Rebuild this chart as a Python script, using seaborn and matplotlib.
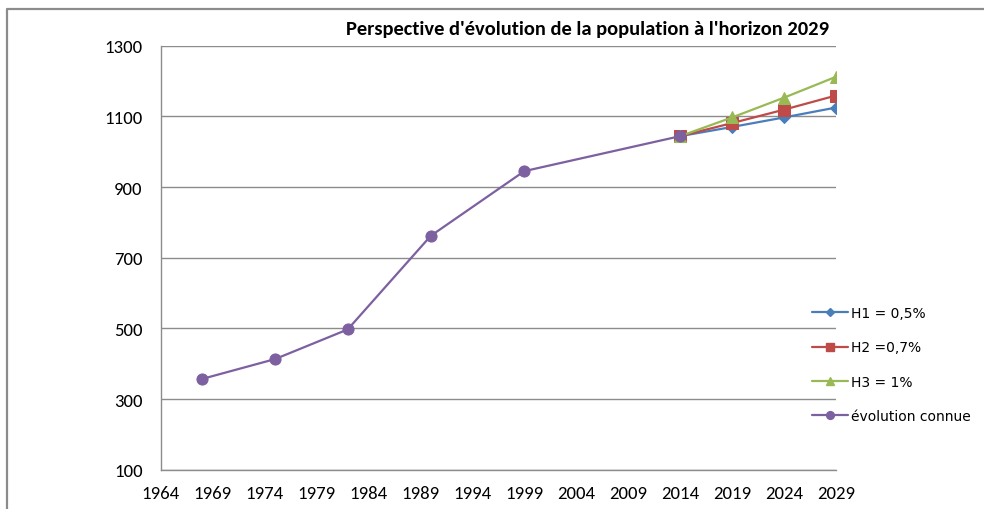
import matplotlib
matplotlib.use("Agg")
import matplotlib.pyplot as plt
from matplotlib.lines import Line2D
import seaborn as sns
import pandas as pd

# Census counts and projections
years_known = [1968, 1975, 1982, 1990, 1999, 2014]
pop_known = [357, 413, 497, 762, 945, 1044]

years_proj = [2014, 2019, 2024, 2029]
pop_h1 = [1044, 1070, 1097, 1125]
pop_h2 = [1044, 1081, 1119, 1159]
pop_h3 = [1044, 1097, 1153, 1212]

series_labels = ["H1 = 0,5%", "H2 =0,7%", "H3 = 1%", "évolution connue"]
x_ticks = list(range(1964, 2030, 5))
y_ticks = list(range(100, 1301, 200))

sns.set_theme(style="white")
plt.rcParams["font.family"] = ["DejaVu Sans"]
plt.rcParams["text.color"] = "black"
calib = ["Carlito", "DejaVu Sans"]

W, H = 984, 510
fig = plt.figure(figsize=(W / 100, H / 100), dpi=100)
fig.patch.set_facecolor("white")

# Plot area in pixel coordinates
x0, x1, y0, y1 = 160.7, 836.0, 46.7, 470.7
ax = fig.add_axes([x0 / W, 1 - y1 / H, (x1 - x0) / W, (y1 - y0) / H])
ax.set_facecolor("white")

frames = [
    pd.DataFrame({"year": years_proj, "pop": pop_h1, "serie": series_labels[0]}),
    pd.DataFrame({"year": years_proj, "pop": pop_h2, "serie": series_labels[1]}),
    pd.DataFrame({"year": years_proj, "pop": pop_h3, "serie": series_labels[2]}),
    pd.DataFrame({"year": years_known, "pop": pop_known, "serie": series_labels[3]}),
]
colors = ["#4A7EBB", "#BE4B48", "#98B954", "#7D60A0"]
markers = ["D", "s", "^", "o"]
msizes = [6, 8, 9, 8]

for df, c, m, ms in zip(frames, colors, markers, msizes):
    sns.lineplot(data=df, x="year", y="pop", ax=ax, color=c, marker=m,
                 markersize=ms, markeredgecolor=c, linewidth=1.6,
                 label=df["serie"].iloc[0], zorder=3)

ax.set_xlim(1964, 2029)
ax.set_ylim(100, 1300)
ax.set_xticks(x_ticks)
ax.set_yticks(y_ticks)
ax.set_xlabel("")
ax.set_ylabel("")

grid_col = "#8C8C8C"
ax.yaxis.grid(True, color=grid_col, linewidth=1.0)
ax.xaxis.grid(False)
for s in ["top", "right"]:
    ax.spines[s].set_visible(False)
for s in ["left", "bottom"]:
    ax.spines[s].set_color(grid_col)
    ax.spines[s].set_linewidth(1.0)
ax.tick_params(axis="both", which="both", direction="out", length=5,
               width=1.0, color=grid_col, labelcolor="black")
ax.tick_params(axis="x", pad=6)
ax.tick_params(axis="y", pad=8)
for lab in ax.get_xticklabels() + ax.get_yticklabels():
    lab.set_fontfamily(calib)
    lab.set_fontsize(13.5)

# Title
fig.text(588 / W, 1 - 30 / H, "Perspective d'évolution de la population à l'horizon 2029",
         ha="center", va="center", fontsize=14.8, fontweight="bold",
         family=calib, color="black")

# Legend to the right of the plot area
handles = [Line2D([0], [0], color=c, marker=m, markersize=ms * 0.7,
                  markeredgecolor=c, linewidth=1.6)
           for c, m, ms in zip(colors, markers, msizes)]
ax.legend(handles, series_labels, loc="center left",
          bbox_to_anchor=(812 / W, 1 - 365.5 / H), bbox_transform=fig.transFigure,
          frameon=False, fontsize=10, handlelength=2.6, handletextpad=0.2,
          labelspacing=1.45, borderaxespad=0, borderpad=0, labelcolor="black")

# Outer chart frame (left and top edges)
fig.add_artist(Line2D([7.3 / W, 7.3 / W, 1.0], [0.0, 1 - 10 / H, 1 - 10 / H],
                      transform=fig.transFigure, color="#8C8C8C", linewidth=1.6))

fig.savefig("out.png", dpi=100, facecolor="white")
